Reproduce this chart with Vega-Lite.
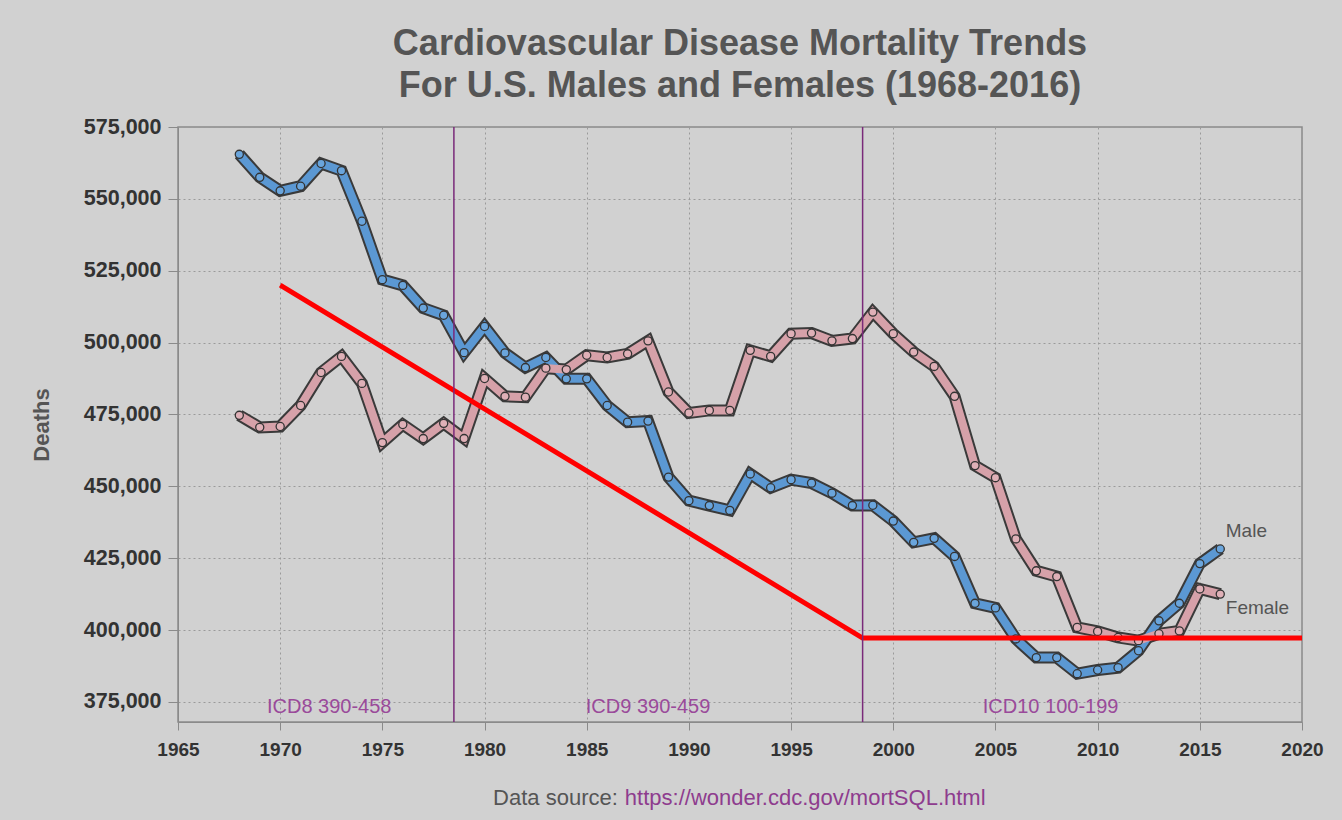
{
  "$schema": "https://vega.github.io/schema/vega-lite/v6.json",
  "autosize": {"type": "none"},
  "padding": {"left": 178, "top": 127, "right": 40, "bottom": 98},
  "width": 1124,
  "height": 595,
  "background": "#d1d1d1",
  "title": {
    "text": ["Cardiovascular Disease Mortality Trends", "For U.S. Males and Females (1968-2016)"],
    "fontSize": 36,
    "fontWeight": "bold",
    "font": "Liberation Sans",
    "color": "#555555",
    "anchor": "middle",
    "lineHeight": 42,
    "offset": 11
  },
  "config": {
    "view": {"stroke": "#8a8a8a", "strokeWidth": 1.5, "fill": "#d1d1d1"},
    "font": "Liberation Sans",
    "axis": {
      "domainColor": "#8a8a8a",
      "tickColor": "#8a8a8a",
      "gridColor": "#9a9a9a",
      "gridDash": [2, 3],
      "gridWidth": 1,
      "labelFont": "Liberation Sans",
      "labelFontWeight": "bold",
      "labelColor": "#333333",
      "titleFont": "Liberation Sans",
      "titleColor": "#555555",
      "titleFontSize": 22,
      "titleFontWeight": "bold"
    }
  },
  "datasets": {
    "deaths": [
      {"year": 1968, "sex": "Male", "deaths": 565500},
      {"year": 1969, "sex": "Male", "deaths": 557500},
      {"year": 1970, "sex": "Male", "deaths": 552800},
      {"year": 1971, "sex": "Male", "deaths": 554400},
      {"year": 1972, "sex": "Male", "deaths": 562300},
      {"year": 1973, "sex": "Male", "deaths": 559800},
      {"year": 1974, "sex": "Male", "deaths": 542200},
      {"year": 1975, "sex": "Male", "deaths": 521900},
      {"year": 1976, "sex": "Male", "deaths": 519900},
      {"year": 1977, "sex": "Male", "deaths": 512000},
      {"year": 1978, "sex": "Male", "deaths": 509500},
      {"year": 1979, "sex": "Male", "deaths": 496500},
      {"year": 1980, "sex": "Male", "deaths": 505600},
      {"year": 1981, "sex": "Male", "deaths": 496400},
      {"year": 1982, "sex": "Male", "deaths": 491300},
      {"year": 1983, "sex": "Male", "deaths": 494800},
      {"year": 1984, "sex": "Male", "deaths": 487400},
      {"year": 1985, "sex": "Male", "deaths": 487400},
      {"year": 1986, "sex": "Male", "deaths": 478100},
      {"year": 1987, "sex": "Male", "deaths": 472300},
      {"year": 1988, "sex": "Male", "deaths": 472700},
      {"year": 1989, "sex": "Male", "deaths": 453200},
      {"year": 1990, "sex": "Male", "deaths": 445000},
      {"year": 1991, "sex": "Male", "deaths": 443300},
      {"year": 1992, "sex": "Male", "deaths": 441600},
      {"year": 1993, "sex": "Male", "deaths": 454300},
      {"year": 1994, "sex": "Male", "deaths": 449500},
      {"year": 1995, "sex": "Male", "deaths": 452300},
      {"year": 1996, "sex": "Male", "deaths": 451100},
      {"year": 1997, "sex": "Male", "deaths": 447600},
      {"year": 1998, "sex": "Male", "deaths": 443300},
      {"year": 1999, "sex": "Male", "deaths": 443400},
      {"year": 2000, "sex": "Male", "deaths": 437900},
      {"year": 2001, "sex": "Male", "deaths": 430500},
      {"year": 2002, "sex": "Male", "deaths": 431900},
      {"year": 2003, "sex": "Male", "deaths": 425600},
      {"year": 2004, "sex": "Male", "deaths": 409300},
      {"year": 2005, "sex": "Male", "deaths": 407700},
      {"year": 2006, "sex": "Male", "deaths": 396900},
      {"year": 2007, "sex": "Male", "deaths": 390400},
      {"year": 2008, "sex": "Male", "deaths": 390400},
      {"year": 2009, "sex": "Male", "deaths": 384800},
      {"year": 2010, "sex": "Male", "deaths": 386100},
      {"year": 2011, "sex": "Male", "deaths": 386900},
      {"year": 2012, "sex": "Male", "deaths": 392800},
      {"year": 2013, "sex": "Male", "deaths": 403200},
      {"year": 2014, "sex": "Male", "deaths": 409300},
      {"year": 2015, "sex": "Male", "deaths": 423100},
      {"year": 2016, "sex": "Male", "deaths": 428200},
      {"year": 1968, "sex": "Female", "deaths": 474700},
      {"year": 1969, "sex": "Female", "deaths": 470500},
      {"year": 1970, "sex": "Female", "deaths": 470800},
      {"year": 1971, "sex": "Female", "deaths": 478100},
      {"year": 1972, "sex": "Female", "deaths": 489600},
      {"year": 1973, "sex": "Female", "deaths": 495200},
      {"year": 1974, "sex": "Female", "deaths": 485800},
      {"year": 1975, "sex": "Female", "deaths": 465200},
      {"year": 1976, "sex": "Female", "deaths": 471500},
      {"year": 1977, "sex": "Female", "deaths": 466600},
      {"year": 1978, "sex": "Female", "deaths": 471900},
      {"year": 1979, "sex": "Female", "deaths": 466600},
      {"year": 1980, "sex": "Female", "deaths": 487500},
      {"year": 1981, "sex": "Female", "deaths": 481300},
      {"year": 1982, "sex": "Female", "deaths": 481000},
      {"year": 1983, "sex": "Female", "deaths": 491100},
      {"year": 1984, "sex": "Female", "deaths": 490600},
      {"year": 1985, "sex": "Female", "deaths": 495600},
      {"year": 1986, "sex": "Female", "deaths": 494800},
      {"year": 1987, "sex": "Female", "deaths": 496100},
      {"year": 1988, "sex": "Female", "deaths": 500600},
      {"year": 1989, "sex": "Female", "deaths": 482800},
      {"year": 1990, "sex": "Female", "deaths": 475500},
      {"year": 1991, "sex": "Female", "deaths": 476400},
      {"year": 1992, "sex": "Female", "deaths": 476400},
      {"year": 1993, "sex": "Female", "deaths": 497300},
      {"year": 1994, "sex": "Female", "deaths": 495200},
      {"year": 1995, "sex": "Female", "deaths": 503100},
      {"year": 1996, "sex": "Female", "deaths": 503300},
      {"year": 1997, "sex": "Female", "deaths": 500600},
      {"year": 1998, "sex": "Female", "deaths": 501400},
      {"year": 1999, "sex": "Female", "deaths": 510600},
      {"year": 2000, "sex": "Female", "deaths": 503100},
      {"year": 2001, "sex": "Female", "deaths": 496700},
      {"year": 2002, "sex": "Female", "deaths": 491700},
      {"year": 2003, "sex": "Female", "deaths": 481300},
      {"year": 2004, "sex": "Female", "deaths": 457200},
      {"year": 2005, "sex": "Female", "deaths": 453000},
      {"year": 2006, "sex": "Female", "deaths": 431700},
      {"year": 2007, "sex": "Female", "deaths": 420600},
      {"year": 2008, "sex": "Female", "deaths": 418600},
      {"year": 2009, "sex": "Female", "deaths": 400900},
      {"year": 2010, "sex": "Female", "deaths": 399500},
      {"year": 2011, "sex": "Female", "deaths": 397400},
      {"year": 2012, "sex": "Female", "deaths": 396300},
      {"year": 2013, "sex": "Female", "deaths": 398700},
      {"year": 2014, "sex": "Female", "deaths": 399700},
      {"year": 2015, "sex": "Female", "deaths": 414300},
      {"year": 2016, "sex": "Female", "deaths": 412500}
    ],
    "trend": [
      {"year": 1970, "deaths": 520000},
      {"year": 1998.5, "deaths": 397200},
      {"year": 2020, "deaths": 397200}
    ],
    "icd": [
      {"year": 1978.5},
      {"year": 1998.5}
    ],
    "icdLabels": [
      {"year": 1972.4, "deaths": 373200, "label": "ICD8 390-458"},
      {"year": 1988, "deaths": 373200, "label": "ICD9 390-459"},
      {"year": 2007.7, "deaths": 373200, "label": "ICD10 100-199"}
    ],
    "seriesLabels": [
      {"year": 2016.27, "deaths": 434300, "label": "Male"},
      {"year": 2016.27, "deaths": 407500, "label": "Female"}
    ],
    "footer": [
      {"year": 1986.67, "deaths": 341600, "label": "Data source:", "part": "a"},
      {"year": 1986.67, "deaths": 341600, "label": "https://wonder.cdc.gov/mortSQL.html", "part": "b"}
    ]
  },
  "layer": [
    {
      "data": {"name": "deaths"},
      "mark": {"type": "line", "color": "#3a3a3a", "strokeWidth": 12, "strokeJoin": "miter", "strokeCap": "butt"},
      "encoding": {
        "x": {
          "field": "year", "type": "quantitative",
          "scale": {"domain": [1965, 2020], "nice": false, "zero": false},
          "axis": {"values": [1965, 1970, 1975, 1980, 1985, 1990, 1995, 2000, 2005, 2010, 2015, 2020], "format": "d", "labelFlush": false, "labelFontSize": 19, "tickSize": 8, "labelPadding": 10, "title": null}
        },
        "y": {
          "field": "deaths", "type": "quantitative",
          "scale": {"domain": [368000, 575000], "nice": false, "zero": false},
          "axis": {"values": [375000, 400000, 425000, 450000, 475000, 500000, 525000, 550000, 575000], "format": ",d", "labelFontSize": 21.5, "tickSize": 10, "labelPadding": 7, "title": "Deaths", "titlePadding": 30}
        },
        "detail": {"field": "sex"}
      }
    },
    {
      "data": {"name": "deaths"},
      "mark": {"type": "line", "strokeWidth": 8, "strokeJoin": "miter", "strokeCap": "butt"},
      "encoding": {
        "x": {"field": "year", "type": "quantitative"},
        "y": {"field": "deaths", "type": "quantitative"},
        "color": {"field": "sex", "type": "nominal", "scale": {"domain": ["Male", "Female"], "range": ["#5b98d3", "#d6a1a9"]}, "legend": null}
      }
    },
    {
      "data": {"name": "deaths"},
      "mark": {"type": "point", "filled": true, "shape": "circle", "size": 66, "stroke": "#333333", "strokeWidth": 1.3, "opacity": 1},
      "encoding": {
        "x": {"field": "year", "type": "quantitative"},
        "y": {"field": "deaths", "type": "quantitative"},
        "fill": {"field": "sex", "type": "nominal", "scale": {"domain": ["Male", "Female"], "range": ["#6aa5dc", "#dfb0b7"]}, "legend": null}
      }
    },
    {
      "data": {"name": "trend"},
      "mark": {"type": "line", "color": "#ff0000", "strokeWidth": 5},
      "encoding": {
        "x": {"field": "year", "type": "quantitative"},
        "y": {"field": "deaths", "type": "quantitative"}
      }
    },
    {
      "data": {"name": "icd"},
      "mark": {"type": "rule", "color": "#7a2a7a", "strokeWidth": 1.5},
      "encoding": {
        "x": {"field": "year", "type": "quantitative"}
      }
    },
    {
      "data": {"name": "icdLabels"},
      "mark": {"type": "text", "color": "#9a4a9a", "fontSize": 20, "align": "center", "baseline": "middle", "font": "Liberation Sans"},
      "encoding": {
        "x": {"field": "year", "type": "quantitative"},
        "y": {"field": "deaths", "type": "quantitative"},
        "text": {"field": "label"}
      }
    },
    {
      "data": {"name": "seriesLabels"},
      "mark": {"type": "text", "color": "#555555", "fontSize": 19, "align": "left", "baseline": "middle", "font": "Liberation Sans"},
      "encoding": {
        "x": {"field": "year", "type": "quantitative"},
        "y": {"field": "deaths", "type": "quantitative"},
        "text": {"field": "label"}
      }
    },
    {
      "data": {"name": "footer"},
      "transform": [{"filter": "datum.part == 'a'"}],
      "mark": {"type": "text", "color": "#555555", "fontSize": 22, "align": "right", "baseline": "middle", "dx": -3, "font": "Liberation Sans"},
      "encoding": {
        "x": {"field": "year", "type": "quantitative"},
        "y": {"field": "deaths", "type": "quantitative"},
        "text": {"field": "label"}
      }
    },
    {
      "data": {"name": "footer"},
      "transform": [{"filter": "datum.part == 'b'"}],
      "mark": {"type": "text", "color": "#8e3c8e", "fontSize": 22, "align": "left", "baseline": "middle", "dx": 4, "font": "Liberation Sans"},
      "encoding": {
        "x": {"field": "year", "type": "quantitative"},
        "y": {"field": "deaths", "type": "quantitative"},
        "text": {"field": "label"}
      }
    }
  ]
}
